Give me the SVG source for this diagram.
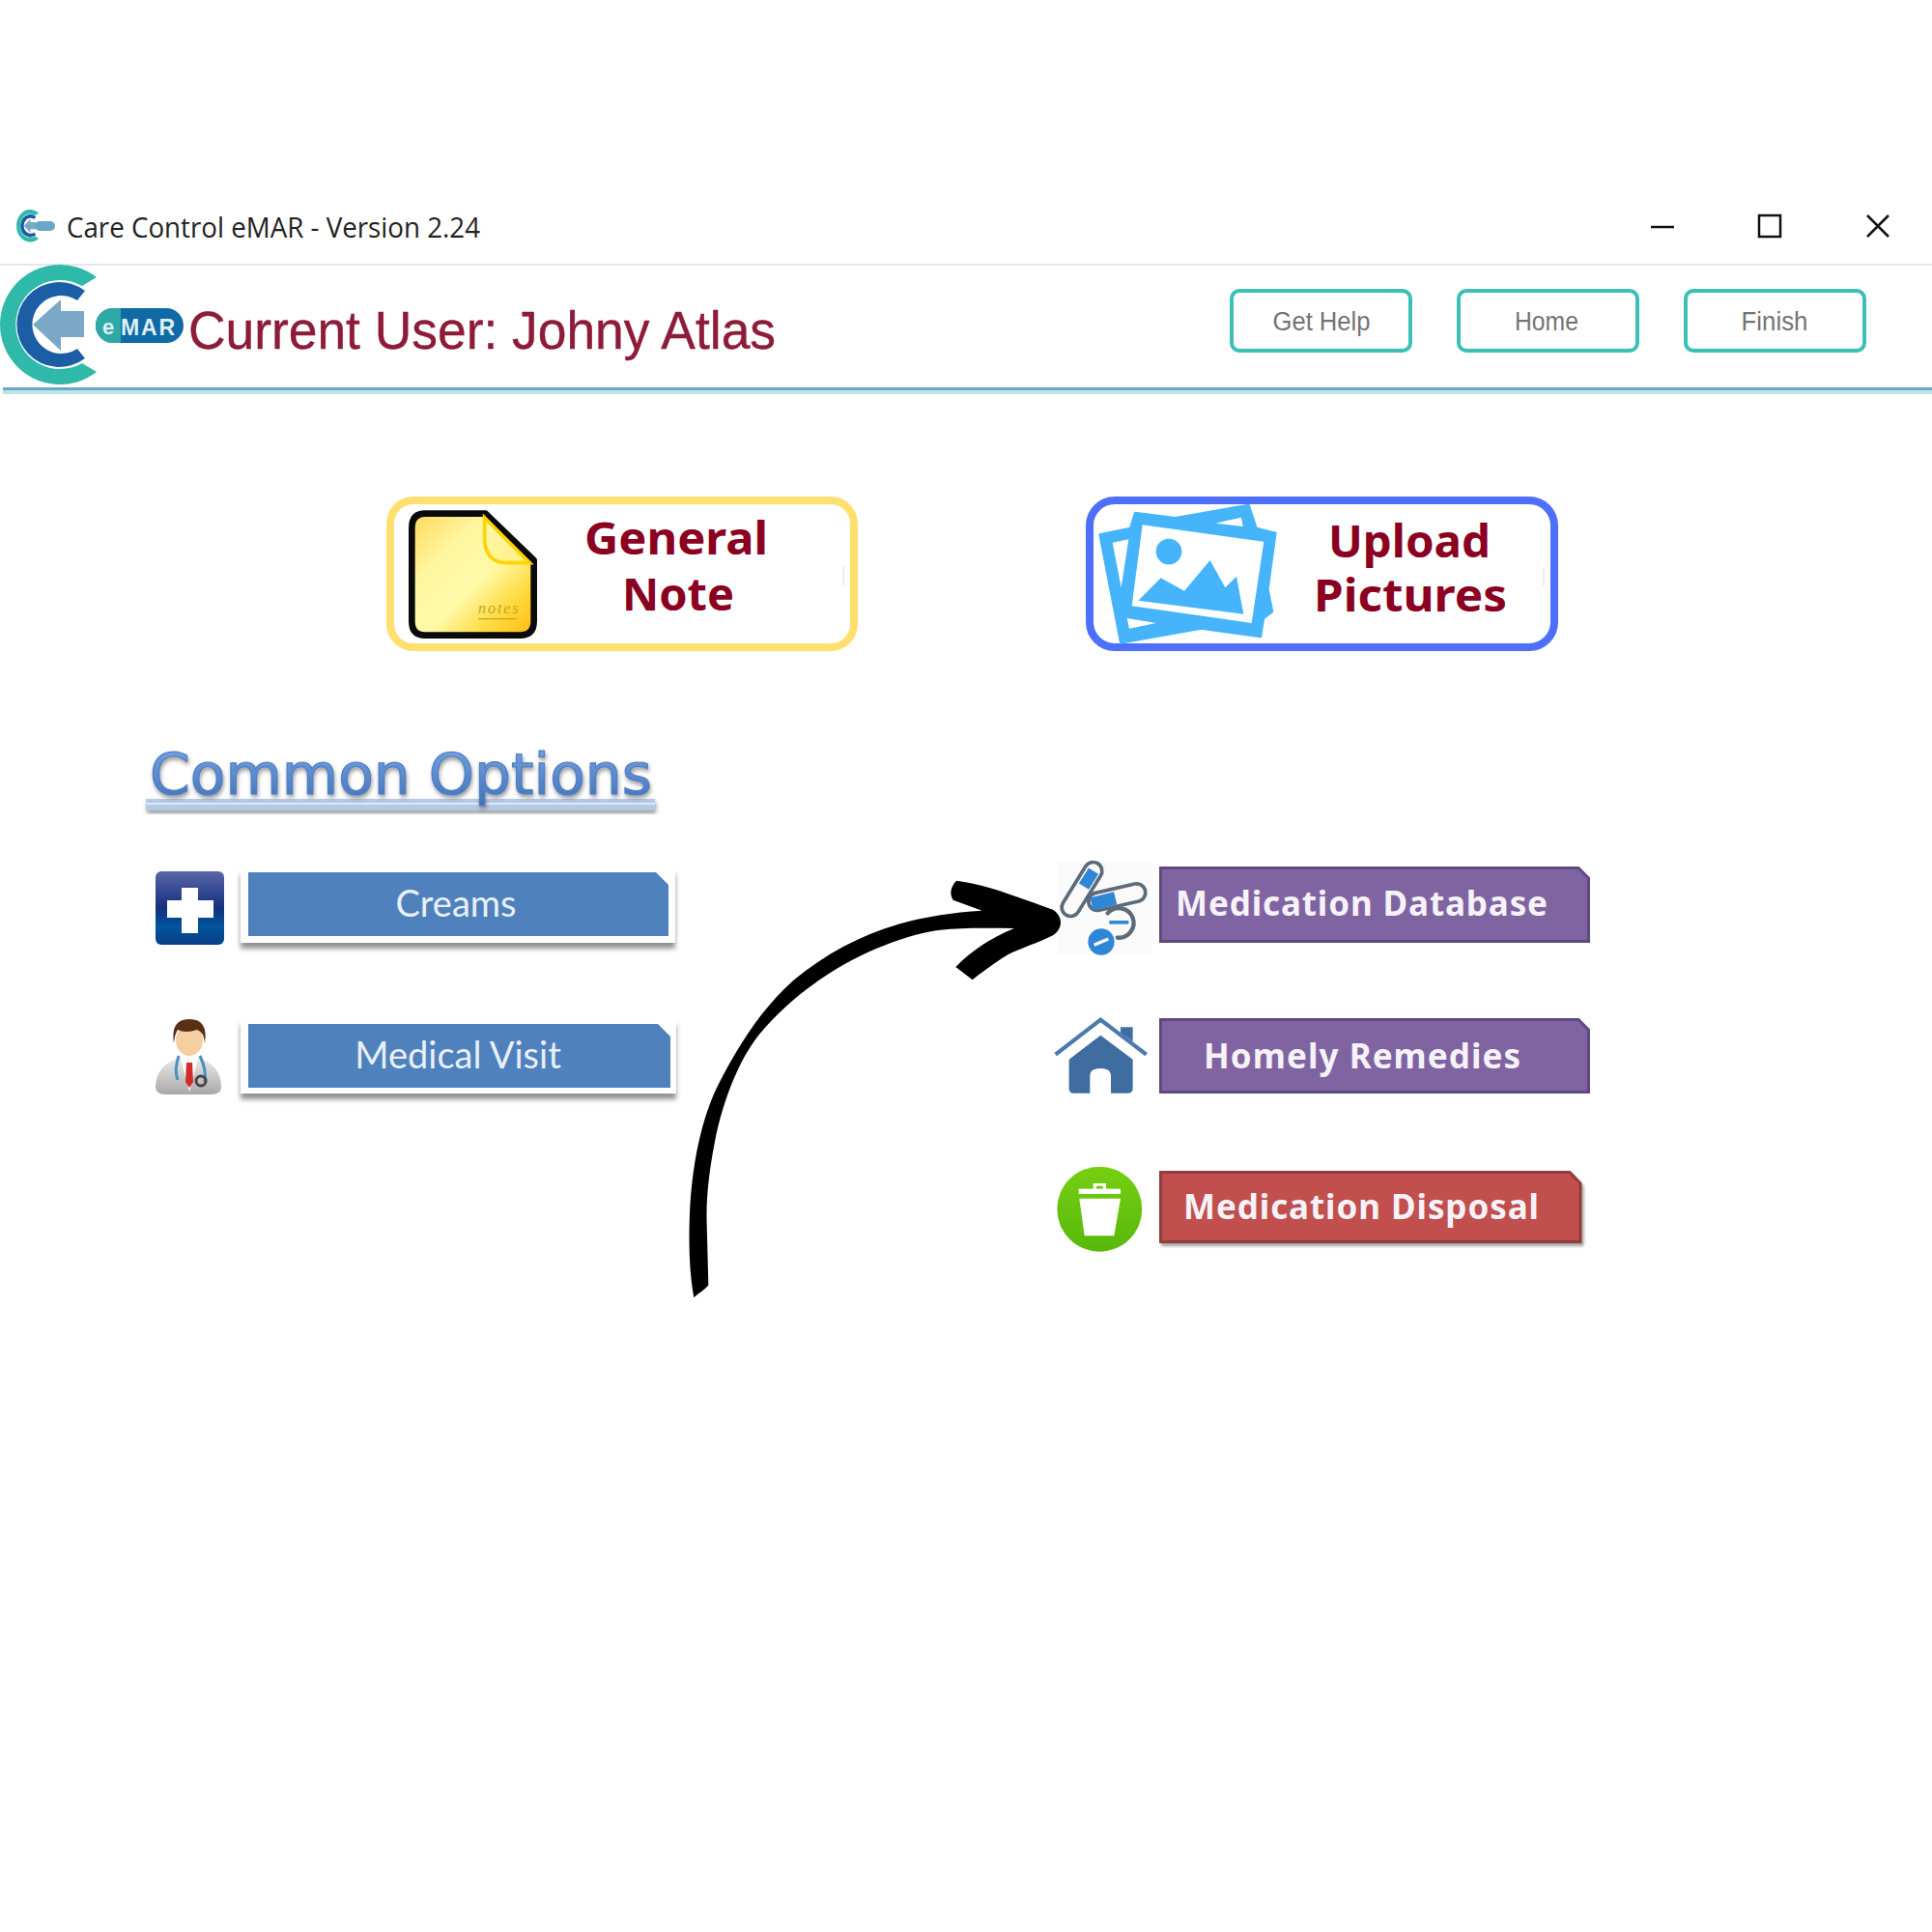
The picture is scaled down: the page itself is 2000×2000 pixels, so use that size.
<svg xmlns="http://www.w3.org/2000/svg" width="2000" height="2000" viewBox="0 0 2000 2000">
<style>
.top{fill:#737373;font:27px "Liberation Sans",Arial,sans-serif;text-anchor:middle}
.topbtn{fill:#fff;stroke:#3cbfb7;stroke-width:4}
.big{fill:#8b0020;font:bold 46px "Noto Sans",sans-serif;text-anchor:middle}
.blue{fill:#4f81bd}
.bevel{fill:#fff;filter:url(#btnShadow)}
.bluelbl{fill:#e9f0f8;font:38px Lato,"Noto Sans",sans-serif;text-anchor:middle}
.actlbl{fill:#f6f2f8;font:bold 35px "Noto Sans",sans-serif}
.win{fill:none;stroke:#111;stroke-width:2.5}
</style>
<defs>
<filter id="btnShadow" x="-5%" y="-20%" width="110%" height="140%"><feDropShadow dx="0" dy="6" stdDeviation="2.500" flood-color="#777" flood-opacity=".8"/></filter>
<filter id="txtShadow" x="-5%" y="-20%" width="110%" height="150%"><feDropShadow dx="1" dy="3" stdDeviation="2" flood-color="#666" flood-opacity=".65"/></filter>
<filter id="redShadow" x="-5%" y="-20%" width="110%" height="140%"><feDropShadow dx="2" dy="3" stdDeviation="1.500" flood-color="#666" flood-opacity=".6"/></filter>
<linearGradient id="commonGrad" x1="0" y1="0" x2="0" y2="1"><stop offset="0" stop-color="#7aa6e6"/><stop offset="1" stop-color="#3f70b4"/></linearGradient>
<linearGradient id="noteGrad" x1="0" y1="0" x2="1" y2="1"><stop offset="0" stop-color="#ffd85a"/><stop offset=".3" stop-color="#fff6a0"/><stop offset=".55" stop-color="#fffaa8"/><stop offset=".78" stop-color="#ffd93f"/><stop offset=".95" stop-color="#ffc21a"/><stop offset="1" stop-color="#ffe000"/></linearGradient>
<linearGradient id="foldGrad" x1="0" y1="0" x2="1" y2="1"><stop offset="0" stop-color="#fff9b0"/><stop offset="1" stop-color="#ffef80"/></linearGradient>
<linearGradient id="creamGrad" x1="0" y1="0" x2="0" y2="1"><stop offset="0" stop-color="#5a66a8"/><stop offset=".5" stop-color="#14307e"/><stop offset=".75" stop-color="#00559c"/><stop offset="1" stop-color="#0a3f88"/></linearGradient>
<linearGradient id="coatGrad" x1="0" y1="0" x2="0" y2="1"><stop offset="0" stop-color="#eeeeee"/><stop offset="1" stop-color="#a8a8a8"/></linearGradient>
<linearGradient id="binGrad" x1="0" y1="0" x2="0" y2="1"><stop offset="0" stop-color="#76cf12"/><stop offset="1" stop-color="#58b80a"/></linearGradient>
<g id="logoMark">
<path d="M100,287A62,62 0 1 0 100,385L85,376A46,46 0 1 1 85,296Z" fill="#2fb9a9"/>
<path d="M88,301A44,44 0 1 0 88,371L80,361A30,30 0 1 1 80,311Z" fill="#1c5ea6"/>
<path d="M34,336L63,310V322H87V349H63V363Z" fill="#7aa8c6"/>
</g>
</defs>
<rect width="2000" height="2000" fill="#fff"/>

<g id="titlebar">
<use href="#logoMark" transform="translate(17,217) scale(.23,.27) translate(0,-274)"/>
<rect x="36" y="229" width="21" height="10" rx="5" fill="#6aa6c8"/>
<text x="69" y="246" textLength="428" lengthAdjust="spacingAndGlyphs" style="font:30px 'Open Sans',sans-serif;fill:#222">Care Control eMAR - Version 2.24</text>
<path class="win" d="M1709,235H1733"/>
<rect class="win" x="1821" y="223" width="22" height="22"/>
<path class="win" d="M1933,223L1955,245M1955,223L1933,245"/>
<rect x="0" y="273" width="2000" height="2" fill="#e6e6e6"/>
</g>

<g id="header">
<use href="#logoMark"/>
<rect x="99" y="319" width="91" height="36" rx="18" fill="#0f6aa5"/>
<path d="M117,319H125V355H117A18,18 0 0 1 117,319Z" fill="#2fa9a6"/>
<text x="112" y="346" style="font:bold 22px 'Liberation Sans',sans-serif;fill:#dff0f4" text-anchor="middle">e</text>
<text x="153" y="347" textLength="56" lengthAdjust="spacing" style="font:bold 23px 'Liberation Sans',sans-serif;fill:#dff0f4" text-anchor="middle">MAR</text>
<text x="195" y="361" textLength="608" lengthAdjust="spacingAndGlyphs" style="font:55px 'Liberation Sans',sans-serif;fill:#8e1b38;stroke:#8e1b38;stroke-width:.4">Current User: Johny Atlas</text>
<rect x="3" y="401" width="1997" height="3" fill="#6ea6c8"/>
<rect x="3" y="404" width="1997" height="4" fill="#b8e6e4"/>
</g>

<g id="btn-get-help"><rect class="topbtn" x="1275" y="301" width="185" height="62" rx="8"/><text class="top" x="1368" y="342" textLength="101" lengthAdjust="spacingAndGlyphs">Get Help</text></g>
<g id="btn-home"><rect class="topbtn" x="1510" y="301" width="185" height="62" rx="8"/><text class="top" x="1601" y="342" textLength="66" lengthAdjust="spacingAndGlyphs">Home</text></g>
<g id="btn-finish"><rect class="topbtn" x="1745" y="301" width="185" height="62" rx="8"/><text class="top" x="1837" y="342" textLength="69" lengthAdjust="spacingAndGlyphs">Finish</text></g>

<g id="general-note">
<rect x="404" y="518" width="480" height="152" rx="24" fill="#fff" stroke="#ffdf6e" stroke-width="8"/>
<rect x="872" y="586" width="2" height="20" fill="#eeeeee"/>
<g transform="translate(380,500) scale(.3333)">
<path d="M180,95H368L518,240V430Q518,473 475,473H180Q139,473 139,430V140Q139,95 180,95Z" fill="url(#noteGrad)" stroke="#0a0a0a" stroke-width="20" stroke-linejoin="round"/>
<path d="M365,108V180Q370,245 430,248H505Z" fill="url(#foldGrad)" stroke="#ffd400" stroke-width="11"/>
<text x="345" y="405" style="font:italic 48px 'Liberation Serif',serif;fill:#caa41c" textLength="125">notes</text>
<path d="M345,422H465" stroke="#caa41c" stroke-width="4"/>
</g>
<text class="big" x="700" y="574" textLength="190" lengthAdjust="spacingAndGlyphs">General</text>
<text class="big" x="702" y="632" textLength="116" lengthAdjust="spacingAndGlyphs">Note</text>
</g>

<g id="upload-pictures">
<rect x="1128" y="518" width="481" height="152" rx="26" fill="#fff" stroke="#4d6ffa" stroke-width="8"/>
<rect x="1597" y="587" width="2" height="20" fill="#eeeeee"/>
<g transform="translate(1100,500) scale(.3333)" fill="#45b4fb">
<path d="M115,160L210,140 225,92 350,108 578,68 602,140 662,155 638,330 652,400 625,420 615,478 430,452 180,497Z" stroke="#45b4fb" stroke-width="6" stroke-linejoin="round"/>
<path d="M155,185L205,175 182,325ZM475,125L555,107 560,135ZM200,420L290,435 207,452Z" fill="#fff"/>
<path d="M248,130L625,182 587,435 215,382Z" fill="#fff"/>
<circle cx="330" cy="213" r="40"/>
<path d="M235,365L305,295 378,335 458,240 505,325 540,290 562,407Z"/>
</g>
<text class="big" x="1459" y="577" textLength="168" lengthAdjust="spacingAndGlyphs">Upload</text>
<text class="big" x="1460" y="633" textLength="200" lengthAdjust="spacingAndGlyphs">Pictures</text>
</g>

<g id="common-options">
<rect x="151" y="827" width="527" height="12" fill="#b4c8e8" filter="url(#txtShadow)"/>
<rect x="151" y="831" width="527" height="2" fill="#dfe8f6"/>
<text x="155" y="822" textLength="520" lengthAdjust="spacingAndGlyphs" filter="url(#txtShadow)" style="font:58px 'DejaVu Sans',sans-serif;fill:url(#commonGrad);stroke:#4f80c6;stroke-width:1.2">Common Options</text>
</g>

<g id="creams">
<rect x="161" y="902" width="71" height="76" rx="6" fill="url(#creamGrad)"/>
<path d="M188,919H205V932H221V950H205V966H188V950H173V932H188Z" fill="#fff"/>
<rect class="bevel" x="249" y="899" width="450" height="77"/>
<path class="blue" d="M257,903H679L692,916V969H257Z"/>
<text class="bluelbl" x="472" y="949">Creams</text>
</g>

<g id="medical-visit">
<path d="M161,1125Q161,1102 190,1093H202Q229,1102 229,1125Q229,1133 218,1133H172Q161,1133 161,1125Z" fill="url(#coatGrad)"/>
<path d="M186,1092L196,1130 206,1092Z" fill="#fff"/>
<path d="M193,1100H199L200,1120 196,1126 192,1120Z" fill="#d22a2a"/>
<path d="M185,1093Q180,1108 184,1118M207,1093Q214,1108 212,1120" fill="none" stroke="#4a90c0" stroke-width="3"/>
<circle cx="208" cy="1119" r="5" fill="none" stroke="#444" stroke-width="3"/>
<ellipse cx="196" cy="1077" rx="14" ry="16" fill="#f5cfa2"/>
<path d="M180,1080Q176,1055 196,1055Q216,1055 212,1080Q211,1068 204,1066Q192,1070 184,1066Q181,1070 180,1080Z" fill="#5a2f16"/>
<rect class="bevel" x="249" y="1055" width="451" height="77"/>
<path class="blue" d="M257,1060H681L694,1073V1126H257Z"/>
<text class="bluelbl" x="474" y="1106">Medical Visit</text>
</g>

<g id="medication-database">
<rect x="1095" y="892" width="97" height="96" fill="#fafafa"/>
<g transform="translate(960,870) scale(.3333)">
<path d="M515,95L445,208" stroke="#5c6b78" stroke-width="66" stroke-linecap="round"/>
<path d="M515,95L445,208" stroke="#fafafa" stroke-width="44" stroke-linecap="round"/>
<path d="M516,95L486,143" stroke="#2f86d6" stroke-width="36"/>
<path d="M528,190L650,162" stroke="#5c6b78" stroke-width="66" stroke-linecap="round"/>
<path d="M528,190L650,162" stroke="#fafafa" stroke-width="44" stroke-linecap="round"/>
<path d="M510,197L584,179" stroke="#2f86d6" stroke-width="40"/>
<circle cx="597" cy="255" r="50" fill="#fafafa"/>
<path d="M560,226A46,46 0 1 1 590,302" fill="none" stroke="#5c6b78" stroke-width="13" stroke-linecap="round"/>
<rect x="565" y="249" width="60" height="11" fill="#2f86d6"/>
<circle cx="540" cy="315" r="46" fill="#fafafa"/>
<circle cx="540" cy="315" r="41" fill="#2f86d6"/>
<path d="M518,325L562,306" stroke="#fff" stroke-width="10"/>
</g>
<path d="M1201.500,898.500H1634L1644.500,909V974.500H1201.500Z" fill="#8064a2" stroke="#5f4a80" stroke-width="3"/>
<text class="actlbl" x="1217" y="948" textLength="385">Medication Database</text>
</g>

<g id="homely-remedies">
<g transform="translate(960,870) scale(.3333)">
<path d="M398,665L538,557 680,665" fill="none" stroke="#4a7bae" stroke-width="13"/>
<path d="M600,580H638V625L600,597Z" fill="#3f6d9f"/>
<path d="M440,680L538,605 638,680V770Q638,785 622,785H570V730Q570,708 538,708Q505,708 505,730V785H455Q440,785 440,770Z" fill="#3f6d9f"/>
</g>
<path d="M1201.500,1055.500H1634L1644.500,1066V1130.500H1201.500Z" fill="#8064a2" stroke="#5f4a80" stroke-width="3"/>
<text class="actlbl" x="1246" y="1106" textLength="328">Homely Remedies</text>
</g>

<g id="medication-disposal">
<circle cx="1138.300" cy="1251.700" r="44" fill="url(#binGrad)"/>
<g transform="translate(960,870) scale(.3333)" fill="#fff">
<rect x="470" y="1082" width="130" height="16"/>
<path d="M515,1082V1065H555V1082H545V1073H525V1082Z"/>
<path d="M472,1112H600L580,1228H488Z"/>
</g>
<path d="M1201.500,1213.500H1625L1636,1225V1285.500H1201.500Z" fill="#c0504d" stroke="#933c3a" stroke-width="3" filter="url(#redShadow)"/>
<text class="actlbl" x="1225" y="1262" textLength="368">Medication Disposal</text>
</g>

<g id="connectors">
<g transform="translate(690,890) scale(.3333)">
<path d="M85,1360C72,1290 68,1200 72,1100C78,960 105,800 170,680C225,575 300,455 400,370C490,295 600,235 720,200C800,177 890,163 980,158L890,125C878,105 882,85 900,65C990,75 1100,120 1200,155C1232,175 1232,215 1200,235C1150,260 1100,275 1060,295C1020,320 985,345 950,373L898,333C940,290 1000,245 1080,213C1000,212 920,210 850,218C760,228 600,285 480,370C400,425 340,480 290,540C225,620 180,740 155,850C135,950 122,1040 125,1130L130,1322C115,1340 100,1345 85,1360Z" fill="#000"/>
</g>
</g>
</svg>
